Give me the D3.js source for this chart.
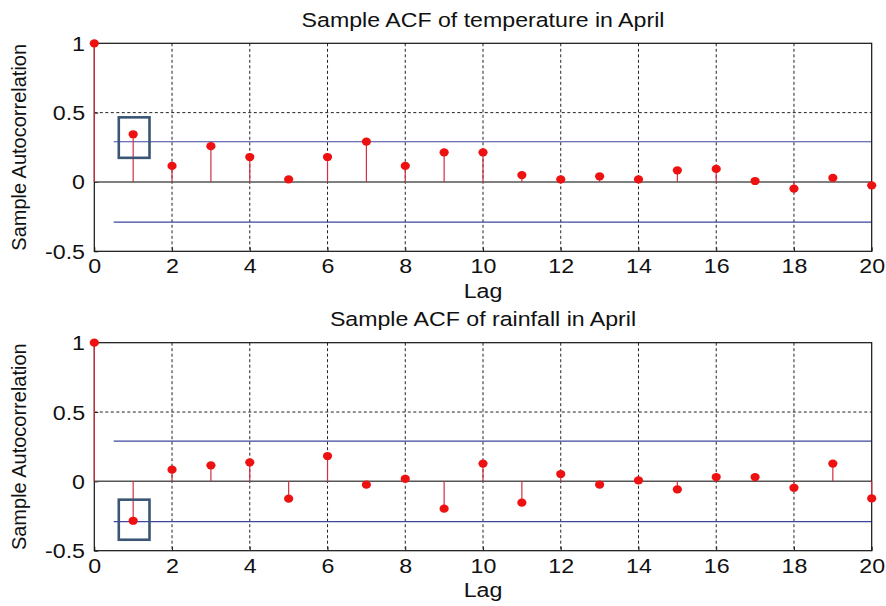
<!DOCTYPE html>
<html>
<head>
<meta charset="utf-8">
<script src="https://cdn.jsdelivr.net/npm/d3@7"></script>
<style>
body { margin: 0; background: #fff; }
svg { display: block; }
text { font-family: "Liberation Sans", Arial, sans-serif; fill: #111; }
</style>
</head>
<body>
<svg id="chart" width="886" height="606"></svg>
<script>
// values
var lags = [0, 1, 2, 3, 4, 5, 6, 7, 8, 9, 10, 11, 12, 13, 14, 15, 16, 17, 18, 19, 20];
var tempAcf = [1, 0.344, 0.116, 0.258, 0.18, 0.019, 0.18, 0.291, 0.116, 0.214, 0.214,
               0.05, 0.019, 0.041, 0.019, 0.084, 0.094, 0.007, -0.048, 0.029, -0.024];
var rainAcf = [1, -0.284, 0.084, 0.116, 0.137, -0.125, 0.183, -0.024, 0.019, -0.197, 0.128,
               -0.154, 0.053, -0.024, 0.007, -0.058, 0.031, 0.031, -0.046, 0.128, -0.123];
var bounds = [0.29, -0.29];
var boundFrom = 0.5;
var xTicks = [0, 2, 4, 6, 8, 10, 12, 14, 16, 18, 20];
var yTicks = [-0.5, 0, 0.5, 1];
var titles = ["Sample ACF of temperature in April", "Sample ACF of rainfall in April"];
var boxLags = [0.63, 1.42];
var tempBox = [0.174, 0.466];
var rainBox = [-0.421, -0.132];

var svg = d3.select("#chart");
var margin = {left: 94.3, right: 14.3, panelH: 208};
var width = 886 - margin.left - margin.right;
var sx = 1.19; // picture is stretched sideways

var x = d3.scaleLinear().domain([0, 20]).range([margin.left, margin.left + width]);

function label(txt, cx, cy, size, stretch) {
    svg.append("text")
        .attr("transform", "translate(" + cx + "," + cy + ") scale(" + stretch + ",1)")
        .attr("text-anchor", "middle")
        .style("font-size", size + "px")
        .text(txt);
}

function panel(top, title, values, box) {
    var y = d3.scaleLinear().domain([-0.5, 1]).range([top + margin.panelH, top]);
    var g = svg.append("g");

    // dotted grid
    g.selectAll(".vgrid")
        .data(xTicks.filter(function(d) { return d > 0 && d < 20; }))
        .enter().append("line")
        .attr("x1", function(d) { return x(d); })
        .attr("x2", function(d) { return x(d); })
        .attr("y1", y(1))
        .attr("y2", y(-0.5))
        .attr("stroke", "#222")
        .attr("stroke-width", 1)
        .attr("stroke-dasharray", "3,2.5");
    g.append("line")
        .attr("x1", x(0)).attr("x2", x(20))
        .attr("y1", y(0.5)).attr("y2", y(0.5))
        .attr("stroke", "#222")
        .attr("stroke-dasharray", "3,2.5");

    // axes
    var xa = g.append("g")
        .attr("transform", "translate(0," + y(-0.5) + ")")
        .call(d3.axisBottom(x).tickValues(xTicks).tickSize(-4).tickFormat(String));
    xa.attr("font-size", null).attr("font-family", null);
    xa.select(".domain").remove();
    xa.selectAll("line").attr("stroke", "#222");
    xa.selectAll("text")
        .attr("y", 22)
        .attr("dy", null)
        .attr("transform", "scale(" + sx + ",1)")
        .style("font-size", "19.5px");

    var ya = g.append("g")
        .attr("transform", "translate(" + x(0) + ",0)")
        .call(d3.axisLeft(y).tickValues(yTicks).tickSize(-4).tickFormat(String));
    ya.attr("font-size", null).attr("font-family", null);
    ya.select(".domain").remove();
    ya.selectAll("line").attr("stroke", "#222");
    ya.selectAll("text")
        .attr("x", -7.8)
        .attr("dy", "0.36em")
        .attr("transform", "scale(" + sx + ",1)")
        .style("font-size", "19.5px");

    // zero line and confidence bounds
    g.append("line")
        .attr("x1", x(0)).attr("x2", x(20))
        .attr("y1", y(0)).attr("y2", y(0))
        .attr("stroke", "#555")
        .attr("stroke-width", 1.5);
    g.selectAll(".bound")
        .data(bounds)
        .enter().append("line")
        .attr("x1", x(boundFrom)).attr("x2", x(20))
        .attr("y1", function(d) { return y(d); })
        .attr("y2", function(d) { return y(d); })
        .attr("stroke", "#3f46a0")
        .attr("stroke-width", 1.2);

    // plot frame
    g.append("rect")
        .attr("x", x(0)).attr("y", y(1))
        .attr("width", x(20) - x(0))
        .attr("height", y(-0.5) - y(1))
        .attr("fill", "none")
        .attr("stroke", "#111")
        .attr("stroke-width", 1.2);

    // stems
    g.selectAll(".stem")
        .data(values)
        .enter().append("line")
        .attr("x1", function(d, i) { return x(lags[i]); })
        .attr("x2", function(d, i) { return x(lags[i]); })
        .attr("y1", y(0))
        .attr("y2", function(d) { return y(d); })
        .attr("stroke", "#d03040")
        .attr("stroke-width", 1.2);
    g.selectAll(".dot")
        .data(values)
        .enter().append("ellipse")
        .attr("cx", function(d, i) { return x(lags[i]); })
        .attr("cy", function(d) { return y(d); })
        .attr("rx", 4.6)
        .attr("ry", 4.1)
        .attr("fill", "#ee1111");

    // highlight box around lag 1
    g.append("rect")
        .attr("x", x(boxLags[0]))
        .attr("y", y(box[1]))
        .attr("width", x(boxLags[1]) - x(boxLags[0]))
        .attr("height", y(box[0]) - y(box[1]))
        .attr("fill", "none")
        .attr("stroke", "#3b5674")
        .attr("stroke-width", 2.6);

    // texts
    var cx = margin.left + width / 2;
    label(title, cx, top - 16.6, 20.5, 1.13);
    label("Lag", cx, top + margin.panelH + 46.3, 19.5, sx);
    svg.append("text")
        .attr("transform", "translate(25.5," + (top + margin.panelH / 2) + ") rotate(-90)")
        .attr("text-anchor", "middle")
        .style("font-size", "20px")
        .text("Sample Autocorrelation");
}

panel(43.3, titles[0], tempAcf, tempBox);
panel(342.7, titles[1], rainAcf, rainBox);
</script>
</body>
</html>
